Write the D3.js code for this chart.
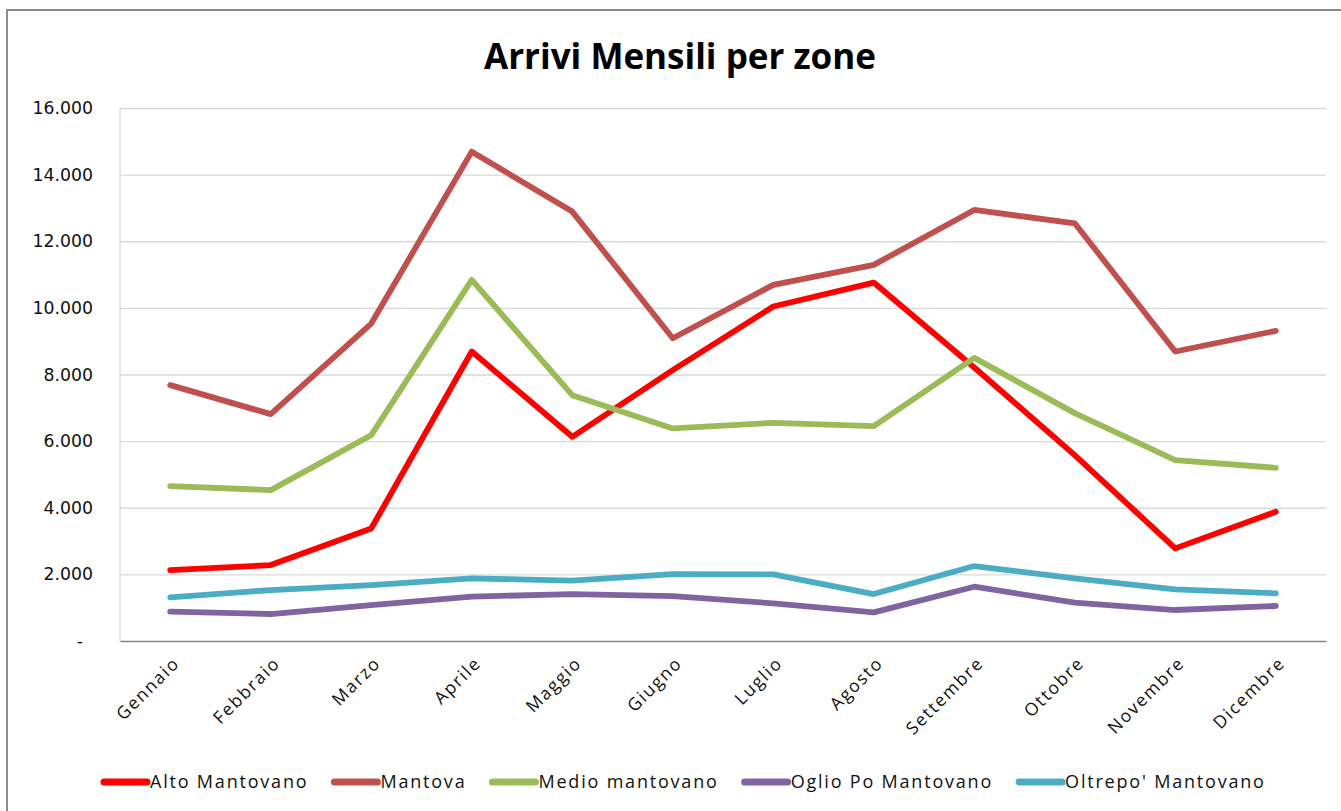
<!DOCTYPE html>
<html>
<head>
<meta charset="utf-8">
<script src="https://cdn.jsdelivr.net/npm/d3@7"></script>
<style>
  html, body { margin: 0; padding: 0; background: #fff; }
  svg { display: block; }
</style>
</head>
<body>
<svg id="chart" width="1341" height="811"></svg>
<script>
// ---- Data ----
const months = ["Gennaio", "Febbraio", "Marzo", "Aprile", "Maggio", "Giugno",
                "Luglio", "Agosto", "Settembre", "Ottobre", "Novembre", "Dicembre"];
const seriesNames = ["Alto Mantovano", "Mantova", "Medio mantovano", "Oglio Po Mantovano", "Oltrepo' Mantovano"];
const altoMantovano   = [2130, 2280, 3380, 8690, 6130, 8130, 10040, 10760, 8210, 5580, 2780, 3880];
const mantova         = [7680, 6810, 9530, 14690, 12890, 9090, 10690, 11290, 12940, 12540, 8690, 9310];
const medioMantovano  = [4650, 4530, 6180, 10840, 7380, 6380, 6550, 6450, 8500, 6840, 5430, 5200];
const oglioPoMantovano = [880, 810, 1080, 1330, 1410, 1350, 1130, 860, 1630, 1150, 930, 1050];
const oltrepoMantovano = [1310, 1530, 1680, 1880, 1810, 2010, 2000, 1410, 2250, 1880, 1550, 1430];
const yTickValues = [0, 2000, 4000, 6000, 8000, 10000, 12000, 14000, 16000];
const yTickLabels = ["-", "2.000", "4.000", "6.000", "8.000", "10.000", "12.000", "14.000", "16.000"];
const seriesColors = ["#FF0000", "#C0504D", "#9BBB59", "#8064A2", "#4BACC6"];
const titleText = "Arrivi Mensili per zone";

const seriesData = [altoMantovano, mantova, medioMantovano, oglioPoMantovano, oltrepoMantovano];

// ---- Layout ----
const svg = d3.select("#chart");
const plot = { left: 120, right: 1326, top: 108, bottom: 641 };

// outer chart border (extends past right/bottom edges)
svg.append("rect")
  .attr("x", 7).attr("y", 10).attr("width", 1400).attr("height", 900)
  .attr("fill", "none").attr("stroke", "#8c8c8c").attr("stroke-width", 2);

const x = d3.scaleBand().domain(months).range([plot.left, plot.right]);
const y = d3.scaleLinear().domain([0, 16000]).range([plot.bottom, plot.top]);
const cx = m => x(m) + x.bandwidth() / 2;

// gridlines
const yAxisGrid = d3.axisLeft(y).tickValues(yTickValues.filter(v => v > 0))
  .tickSize(-(plot.right - plot.left)).tickFormat("");
const grid = svg.append("g").attr("transform", `translate(${plot.left},0)`).call(yAxisGrid);
grid.select(".domain").remove();
grid.selectAll("line").attr("stroke", "#d9d9d9").attr("stroke-width", 1.3);

// left plot border (light)
svg.append("line")
  .attr("x1", plot.left).attr("x2", plot.left)
  .attr("y1", y(16000)).attr("y2", plot.bottom)
  .attr("stroke", "#d9d9d9").attr("stroke-width", 1.3);

// y tick labels
const yAxis = d3.axisLeft(y).tickValues(yTickValues).tickSize(0)
  .tickFormat((d, i) => yTickLabels[i]);
const yg = svg.append("g").attr("transform", `translate(${plot.left - 27},0)`).call(yAxis);
yg.select(".domain").remove();
yg.selectAll("text")
  .attr("font-family", "DejaVu Sans, Verdana, sans-serif")
  .attr("font-size", 17.3)
  .attr("fill", "#111")
  .attr("x", (d) => d === 0 ? -10 : 0);

// x axis
const xAxis = d3.axisBottom(x).tickSize(0).tickFormat("");
const xg = svg.append("g").attr("transform", `translate(0,${plot.bottom})`).call(xAxis);
xg.select(".domain").attr("stroke", "#868686").attr("stroke-width", 1.5);

// x labels
svg.append("g").selectAll("text")
  .data(months).join("text")
  .attr("transform", d => `translate(${cx(d) + 6},${plot.bottom + 19}) rotate(-45)`)
  .attr("text-anchor", "end")
  .attr("dy", "0.35em")
  .attr("font-family", "Open Sans, sans-serif")
  .attr("font-size", 17.5)
  .attr("letter-spacing", 1.7)
  .attr("fill", "#111")
  .text(d => d);

// lines
const line = d3.line().x((d, i) => cx(months[i])).y(d => y(d));
svg.append("g").selectAll("path")
  .data(seriesData).join("path")
  .attr("d", d => line(d))
  .attr("fill", "none")
  .attr("stroke", (d, i) => seriesColors[i])
  .attr("stroke-width", 5.8)
  .attr("stroke-linejoin", "round")
  .attr("stroke-linecap", "round");

// title
const title = svg.append("text")
  .attr("x", 680).attr("y", 69)
  .attr("text-anchor", "middle")
  .attr("font-family", "Open Sans, sans-serif")
  .attr("font-weight", 700)
  .attr("font-size", 30)
  .attr("fill", "#000")
  .text(titleText);
const tw = title.node().getComputedTextLength();
title.attr("font-size", 30 * 392 / tw);

// legend
const legend = svg.append("g");
let lx = 101;
const ly = 782;
seriesNames.forEach((name, i) => {
  legend.append("line")
    .attr("x1", lx + 3).attr("x2", lx + 46)
    .attr("y1", ly).attr("y2", ly)
    .attr("stroke", seriesColors[i]).attr("stroke-width", 7)
    .attr("stroke-linecap", "round");
  const t = legend.append("text")
    .attr("x", lx + 49).attr("y", ly).attr("dy", "0.35em")
    .attr("font-family", "Open Sans, sans-serif")
    .attr("font-size", 18)
    .attr("letter-spacing", 1.8)
    .attr("fill", "#111")
    .text(name);
  lx = lx + 49 + t.node().getComputedTextLength() + 23;
});
</script>
</body>
</html>
